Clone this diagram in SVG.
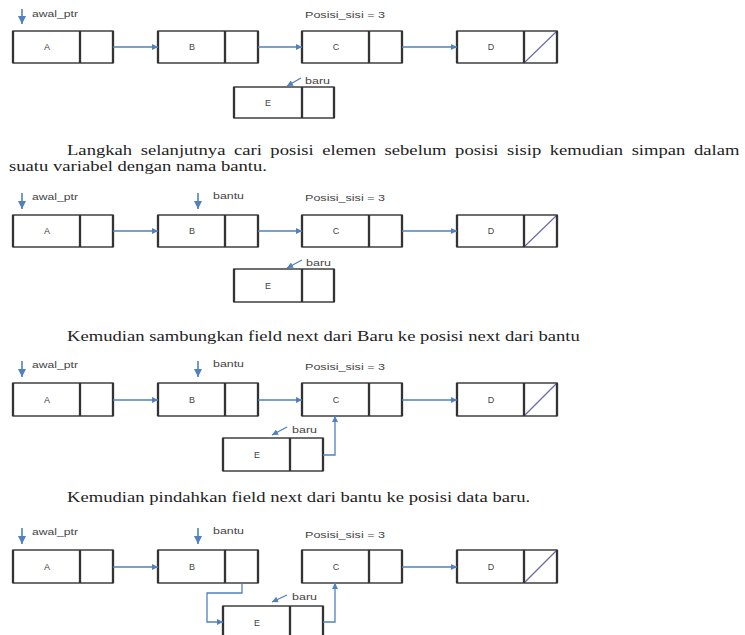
<svg xmlns="http://www.w3.org/2000/svg" width="745" height="635" viewBox="0 0 745 635">
<defs>
<style>
.box{fill:#fff;stroke:#333;stroke-width:1.4}
.vl{fill:none;stroke:#333;stroke-width:2.3}
.nil{stroke:#6a6aa8;stroke-width:1.2}
.lt{font-family:"Liberation Sans",Arial,sans-serif;font-size:9px;fill:#444;text-anchor:middle}
.lb{font-family:"Liberation Sans",Arial,sans-serif;font-size:9px;fill:#444}
.body{font-family:"Liberation Serif","Times New Roman",serif;font-size:14px;fill:#222}
.con{fill:none;stroke:#4f81bd;stroke-width:1.3;marker-end:url(#ah)}
.ptr{fill:none;stroke:#4f81bd;stroke-width:1.6;marker-end:url(#ah2)}
</style>
<marker id="ah" viewBox="0 0 10 10" refX="10" refY="5" markerWidth="7" markerHeight="6" markerUnits="userSpaceOnUse" orient="auto"><path d="M0,0 L10,5 L0,10 z" fill="#4f81bd"/></marker>
<marker id="ah2" viewBox="0 0 10 10" refX="10" refY="5" markerWidth="8" markerHeight="8" markerUnits="userSpaceOnUse" orient="auto"><path d="M0,0 L10,5 L0,10 z" fill="#4f81bd"/></marker>
</defs>
<rect width="745" height="635" fill="#fff"/>

<!-- Row 1 -->
<g id="r1-A"><rect class="box" x="13" y="31" width="100" height="32"/><path class="vl" d="M13,31v32M80,31v32M113,31v32"/><text class="lt" x="47" y="50">A</text></g>
<g id="r1-B"><rect class="box" x="158" y="31" width="100" height="32"/><path class="vl" d="M158,31v32M225,31v32M258,31v32"/><text class="lt" x="192" y="50">B</text></g>
<g id="r1-C"><rect class="box" x="302" y="31" width="100" height="32"/><path class="vl" d="M302,31v32M369,31v32M402,31v32"/><text class="lt" x="336" y="50">C</text></g>
<g id="r1-D"><rect class="box" x="457" y="31" width="100" height="32"/><line class="nil" x1="524" y1="63" x2="557" y2="31"/><path class="vl" d="M457,31v32M524,31v32M557,31v32"/><text class="lt" x="491" y="50">D</text></g>
<g id="r1-E"><rect class="box" x="234" y="87" width="100" height="31"/><path class="vl" d="M234,87v31M302,87v31M334,87v31"/><text class="lt" x="268" y="106">E</text></g>
<g id="r1-labels">
<text class="lb" x="32" y="17" textLength="46" lengthAdjust="spacingAndGlyphs">awal_ptr</text>
<text class="lb" x="305" y="18" textLength="80" lengthAdjust="spacingAndGlyphs">Posisi_sisi = 3</text>
<text class="lb" x="305" y="84" textLength="25" lengthAdjust="spacingAndGlyphs">baru</text>
</g>
<g id="r1-connectors">
<path class="ptr" d="M22,9V24"/>
<path class="con" d="M113,47H158"/>
<path class="con" d="M258,47H302"/>
<path class="con" d="M402,47H457"/>
<path class="con" d="M301,78L287,86"/>
</g>

<text class="body" transform="translate(67,155) scale(1.33,1)" word-spacing="2.9">Langkah selanjutnya cari posisi elemen sebelum posisi sisip kemudian simpan dalam</text>
<text class="body" transform="translate(9,171) scale(1.33,1)">suatu variabel dengan nama bantu.</text>

<!-- Row 2 -->
<g id="r2-A"><rect class="box" x="13" y="215" width="100" height="32"/><path class="vl" d="M13,215v32M80,215v32M113,215v32"/><text class="lt" x="47" y="234">A</text></g>
<g id="r2-B"><rect class="box" x="158" y="215" width="100" height="32"/><path class="vl" d="M158,215v32M225,215v32M258,215v32"/><text class="lt" x="192" y="234">B</text></g>
<g id="r2-C"><rect class="box" x="302" y="215" width="100" height="32"/><path class="vl" d="M302,215v32M369,215v32M402,215v32"/><text class="lt" x="336" y="234">C</text></g>
<g id="r2-D"><rect class="box" x="457" y="215" width="100" height="32"/><line class="nil" x1="524" y1="247" x2="557" y2="215"/><path class="vl" d="M457,215v32M524,215v32M557,215v32"/><text class="lt" x="491" y="234">D</text></g>
<g id="r2-E"><rect class="box" x="234" y="269" width="100" height="33"/><path class="vl" d="M234,269v33M302,269v33M334,269v33"/><text class="lt" x="268" y="289">E</text></g>
<g id="r2-labels">
<text class="lb" x="32" y="200" textLength="46" lengthAdjust="spacingAndGlyphs">awal_ptr</text>
<text class="lb" x="213" y="199" textLength="31" lengthAdjust="spacingAndGlyphs">bantu</text>
<text class="lb" x="305" y="201" textLength="80" lengthAdjust="spacingAndGlyphs">Posisi_sisi = 3</text>
<text class="lb" x="306" y="266" textLength="25" lengthAdjust="spacingAndGlyphs">baru</text>
</g>
<g id="r2-connectors">
<path class="ptr" d="M22,193V209"/>
<path class="ptr" d="M198,193V209"/>
<path class="con" d="M113,231H158"/>
<path class="con" d="M258,231H302"/>
<path class="con" d="M402,231H457"/>
<path class="con" d="M302,260L287,268"/>
</g>

<text class="body" transform="translate(67,341) scale(1.33,1)">Kemudian sambungkan field next dari Baru ke posisi next dari bantu</text>

<!-- Row 3 -->
<g id="r3-A"><rect class="box" x="13" y="383" width="100" height="33"/><path class="vl" d="M13,383v33M80,383v33M113,383v33"/><text class="lt" x="47" y="403">A</text></g>
<g id="r3-B"><rect class="box" x="158" y="383" width="100" height="33"/><path class="vl" d="M158,383v33M225,383v33M258,383v33"/><text class="lt" x="192" y="403">B</text></g>
<g id="r3-C"><rect class="box" x="302" y="383" width="100" height="33"/><path class="vl" d="M302,383v33M369,383v33M402,383v33"/><text class="lt" x="336" y="403">C</text></g>
<g id="r3-D"><rect class="box" x="457" y="383" width="100" height="33"/><line class="nil" x1="524" y1="416" x2="557" y2="383"/><path class="vl" d="M457,383v33M524,383v33M557,383v33"/><text class="lt" x="491" y="403">D</text></g>
<g id="r3-E"><rect class="box" x="223" y="438" width="100" height="33"/><path class="vl" d="M223,438v33M290,438v33M323,438v33"/><text class="lt" x="257" y="458">E</text></g>
<g id="r3-labels">
<text class="lb" x="32" y="368" textLength="46" lengthAdjust="spacingAndGlyphs">awal_ptr</text>
<text class="lb" x="213" y="367" textLength="31" lengthAdjust="spacingAndGlyphs">bantu</text>
<text class="lb" x="305" y="370" textLength="80" lengthAdjust="spacingAndGlyphs">Posisi_sisi = 3</text>
<text class="lb" x="292" y="433" textLength="25" lengthAdjust="spacingAndGlyphs">baru</text>
</g>
<g id="r3-connectors">
<path class="ptr" d="M22,361V377"/>
<path class="ptr" d="M198,361V377"/>
<path class="con" d="M113,400H158"/>
<path class="con" d="M258,400H302"/>
<path class="con" d="M402,400H457"/>
<path class="con" d="M287,427L272,435"/>
<path class="con" d="M323,455H335V416"/>
</g>

<text class="body" transform="translate(67,502) scale(1.33,1)">Kemudian pindahkan field next dari bantu ke posisi data baru.</text>

<!-- Row 4 -->
<g id="r4-A"><rect class="box" x="13" y="550" width="100" height="33"/><path class="vl" d="M13,550v33M80,550v33M113,550v33"/><text class="lt" x="47" y="570">A</text></g>
<g id="r4-B"><rect class="box" x="158" y="550" width="100" height="33"/><path class="vl" d="M158,550v33M225,550v33M258,550v33"/><text class="lt" x="192" y="570">B</text></g>
<g id="r4-C"><rect class="box" x="302" y="550" width="100" height="33"/><path class="vl" d="M302,550v33M369,550v33M402,550v33"/><text class="lt" x="336" y="570">C</text></g>
<g id="r4-D"><rect class="box" x="457" y="550" width="100" height="33"/><line class="nil" x1="524" y1="583" x2="557" y2="550"/><path class="vl" d="M457,550v33M524,550v33M557,550v33"/><text class="lt" x="491" y="570">D</text></g>
<g id="r4-E"><rect class="box" x="223" y="606" width="100" height="33"/><path class="vl" d="M223,606v33M290,606v33M323,606v33"/><text class="lt" x="257" y="626">E</text></g>
<g id="r4-labels">
<text class="lb" x="32" y="535" textLength="46" lengthAdjust="spacingAndGlyphs">awal_ptr</text>
<text class="lb" x="213" y="534" textLength="31" lengthAdjust="spacingAndGlyphs">bantu</text>
<text class="lb" x="305" y="538" textLength="80" lengthAdjust="spacingAndGlyphs">Posisi_sisi = 3</text>
<text class="lb" x="292" y="600" textLength="25" lengthAdjust="spacingAndGlyphs">baru</text>
</g>
<g id="r4-connectors">
<path class="ptr" d="M22,528V544"/>
<path class="ptr" d="M198,528V544"/>
<path class="con" d="M113,567H158"/>
<path class="con" d="M402,567H457"/>
<path class="con" d="M287,595L272,602"/>
<path class="con" d="M242,583V593H207V622H223"/>
<path class="con" d="M323,622H335V583"/>
</g>
</svg>
